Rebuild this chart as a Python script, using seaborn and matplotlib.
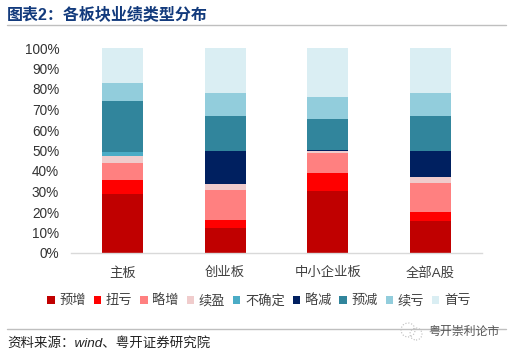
import matplotlib
matplotlib.use('Agg')
import matplotlib.pyplot as plt
from matplotlib.lines import Line2D
from matplotlib.patches import Circle
import numpy as np
import pandas as pd
import seaborn as sns

categories = ['主板', '创业板', '中小企业板', '全部A股']
types = ['预增', '扭亏', '略增', '续盈', '不确定', '略减', '预减', '续亏', '首亏']
yuzeng = [28.6, 12.0, 30.1, 15.6]
niukui = [7.0, 3.9, 8.9, 4.5]
lvezeng = [8.3, 15.0, 9.9, 14.2]
xuying = [3.4, 2.9, 0.7, 2.6]
buqueding = [2.0, 0.1, 0.1, 0.1]
lvejian = [0.1, 15.9, 0.5, 12.8]
yujian = [24.9, 17.0, 15.3, 17.2]
xukui = [8.6, 11.2, 10.6, 11.0]
shoukui = [17.1, 22.0, 23.9, 22.0]
colors = ['#C00000', '#FF0000', '#FF8080', '#F0CCCC', '#4BACC6',
          '#002060', '#31859C', '#92CDDC', '#DAEEF3']

sns.set_theme(style='white')
plt.rcParams['font.family'] = ['Liberation Sans', 'Noto Sans CJK SC']

W, H = 516, 355
fig = plt.figure(figsize=(W / 100, H / 100), dpi=100)
ax = fig.add_axes([71 / W, 1 - 253 / H, 411 / W, 205 / H])

series = [yuzeng, niukui, lvezeng, xuying, buqueding, lvejian, yujian, xukui, shoukui]
bottom = np.zeros(len(categories))
for name, vals, c in zip(types, series, colors):
    df = pd.DataFrame({'板块': categories, '占比': vals})
    sns.barplot(data=df, x='板块', y='占比', color=c, saturation=1, width=0.4,
                bottom=bottom, label=name, ax=ax, errorbar=None, legend=False,
                linewidth=0, edgecolor='none')
    bottom = bottom + np.array(vals)

ax.set_xlim(-0.5, 3.5)
ax.set_ylim(0, 100)
ax.set_yticks(np.arange(0, 101, 10))
ax.set_yticklabels([f'{v}%' for v in range(0, 101, 10)], fontsize=9.8, color='#333333')
ax.tick_params(axis='y', length=0, pad=8.5)
ax.tick_params(axis='x', length=0, pad=10, labelsize=9.6, labelcolor='#404040')
ax.set_xlabel('')
ax.set_ylabel('')
sns.despine(ax=ax, left=True)
ax.spines['bottom'].set_color('#D9D9D9')
ax.spines['bottom'].set_linewidth(1)

handles, labels = ax.get_legend_handles_labels()
ax.legend(handles, labels, ncol=9, frameon=False, loc='center',
          bbox_to_anchor=(0.4574, -0.233), fontsize=9.5, labelcolor='#404040',
          handlelength=0.55, handleheight=0.55, handletextpad=0.35,
          columnspacing=0.61, borderpad=0, borderaxespad=0)

# 标题、分割线和来源
fig.text(7 / W, 1 - 15 / H, '图表2：各板块业绩类型分布', fontsize=11.5, fontweight='bold',
         color='#123A7C', va='center')
for y in (24.5, 329):
    fig.add_artist(Line2D([7 / W, 506 / W], [1 - y / H, 1 - y / H], color='#BFBFBF', lw=1))
fig.text(7 / W, 1 - 343 / H, '资料来源：wind、粤开证券研究院', fontsize=9.7, style='italic',
         color='#222222', va='center')

# 水印
fig.add_artist(Circle((408, H - 330), 7, transform=None, fill=False, ec='#BBBBBB',
                      lw=0.8, ls=':'))
fig.add_artist(Circle((416, H - 334), 6, transform=None, fill=False, ec='#BBBBBB',
                      lw=0.8, ls=':'))
fig.text(428 / W, 1 - 332 / H, '粤开崇利论市', fontsize=8.6, color='#555555', va='center')

fig.savefig('out.png', dpi=100)
